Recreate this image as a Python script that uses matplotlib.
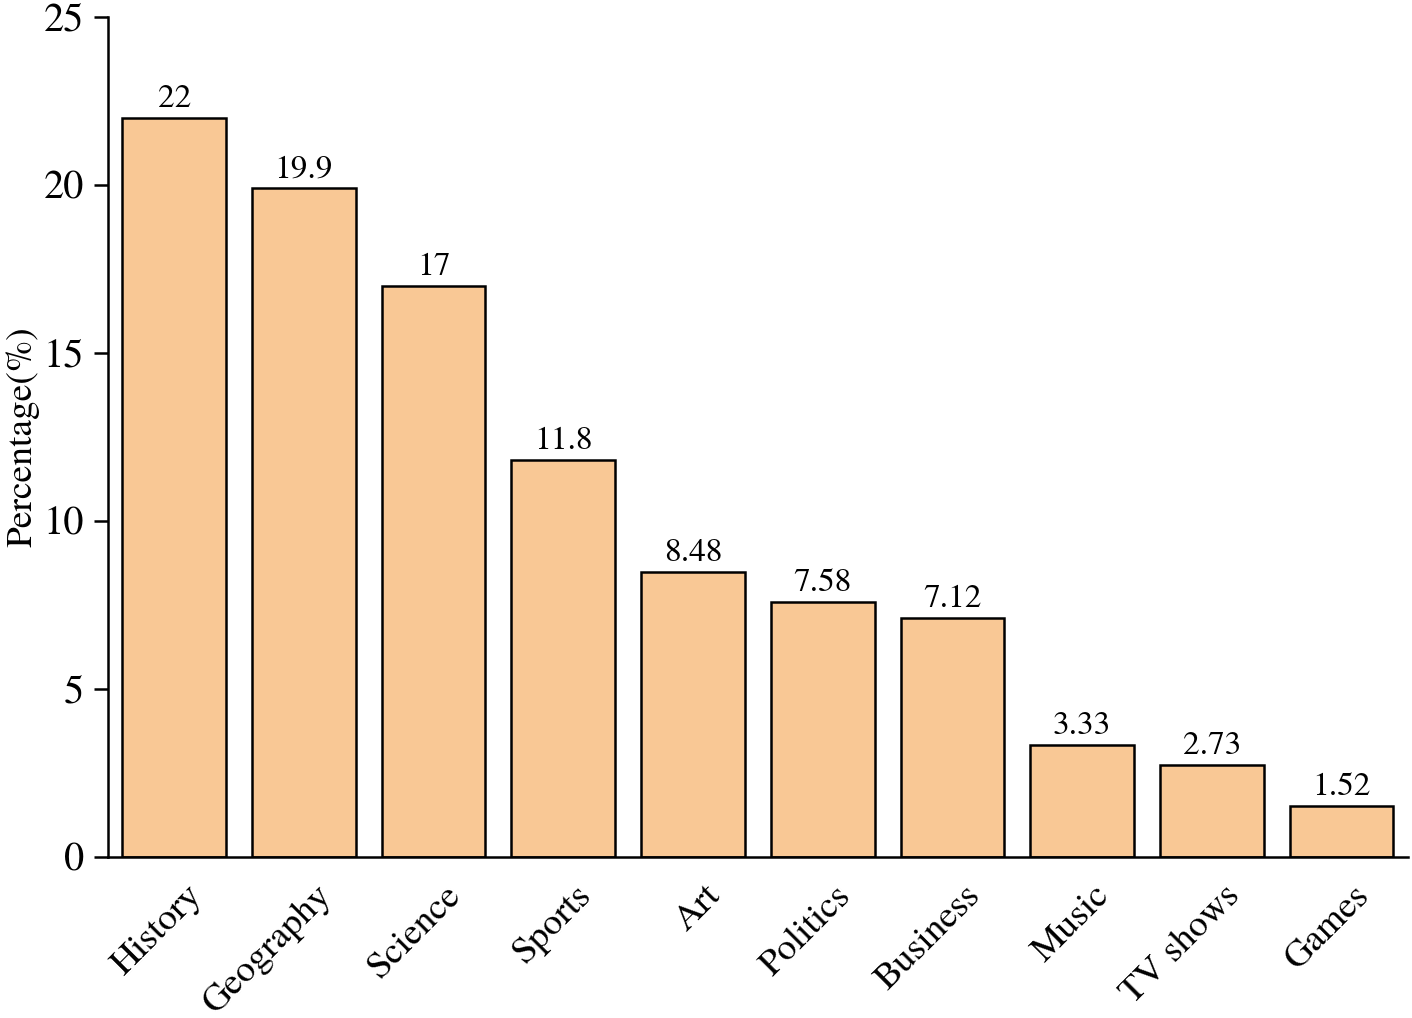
import matplotlib.pyplot as plt
import matplotlib.transforms as mtransforms
import numpy as np

plt.rcParams['font.family'] = ['TeX Gyre Termes', 'Liberation Serif', 'DejaVu Serif']

categories = ['History', 'Geography', 'Science', 'Sports', 'Art',
              'Politics', 'Business', 'Music', 'TV shows', 'Games']
values = [22, 19.9, 17, 11.8, 8.48, 7.58, 7.12, 3.33, 2.73, 1.52]
value_labels = ['22', '19.9', '17', '11.8', '8.48', '7.58', '7.12', '3.33', '2.73', '1.52']
yticks = [0, 5, 10, 15, 20, 25]

fig = plt.figure(figsize=(14.12, 10.18), dpi=100)
ax = fig.add_axes([0.0765, 0.1582, 0.9205, 0.8251])

x = np.arange(len(categories))
bars = ax.bar(x, values, width=0.8, color='#F9C895', edgecolor='black', linewidth=1.8)

for xi, v, lab in zip(x, values, value_labels):
    ax.text(xi, v + 0.12, lab, ha='center', va='bottom', fontsize=24)

ax.set_xlim(-0.51, 9.51)
ax.set_ylim(0, 25)
ax.set_yticks(yticks)
ax.set_yticklabels([str(t) for t in yticks], fontsize=29)
ax.set_xticks(x)
ax.set_xticklabels(categories, fontsize=27, rotation=45, ha='right', rotation_mode='anchor')
ax.tick_params(axis='x', length=0, pad=12)
ax.tick_params(axis='y', length=10, width=1.8, direction='out', pad=7)
ax.set_ylabel('Percentage(%)', fontsize=27, labelpad=3)

# shift the rotated labels a bit (right and down), like the original
offset = mtransforms.ScaledTranslation(8 / 72, -4 / 72, fig.dpi_scale_trans)
for lbl in ax.get_xticklabels():
    lbl.set_transform(lbl.get_transform() + offset)

for s in ['top', 'right']:
    ax.spines[s].set_visible(False)
for s in ['left', 'bottom']:
    ax.spines[s].set_linewidth(1.8)

fig.savefig('out.png', dpi=100)
